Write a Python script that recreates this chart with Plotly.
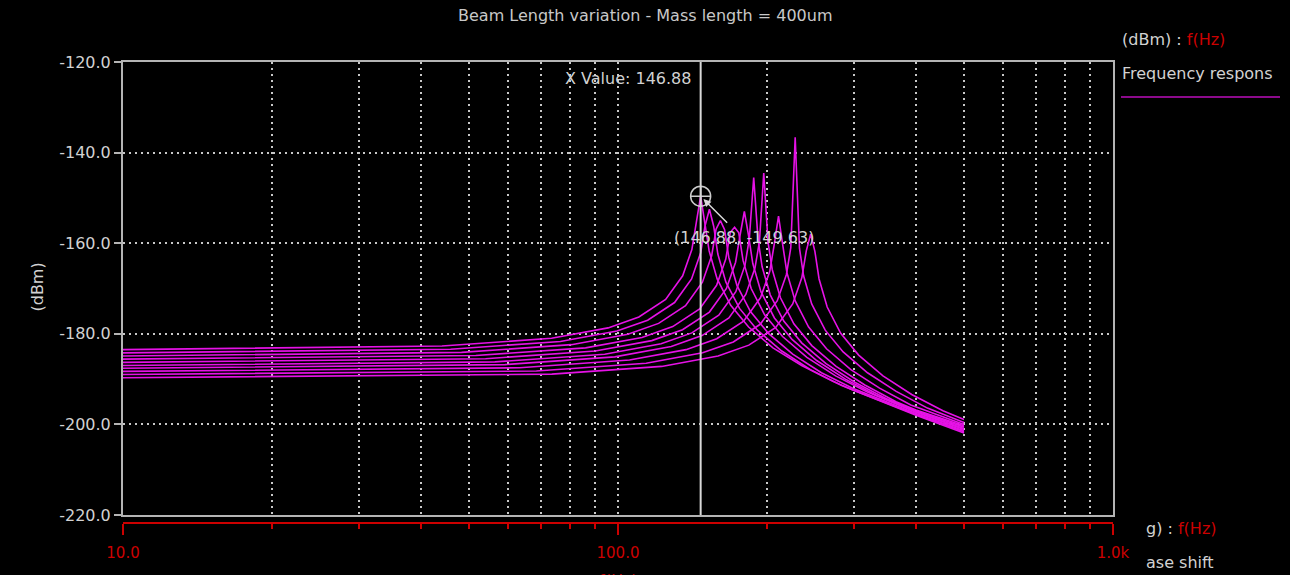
import math
import plotly.graph_objects as go

# Frequency response of the beam-length sweep (10 beam lengths), f in Hz, level in dBm
FREQ_1 = [10, 44.1, 73.4, 95.5, 110.2, 124.8, 135.1, 141.0, 143.9, 146.88, 149.8, 152.8, 158.6, 168.9, 183.6, 205.6, 235.0, 271.7, 300, 400, 500]
DBM_1 = [-183.5, -182.7, -181.0, -178.7, -176.3, -172.4, -167.2, -161.4, -155.5, -149.63, -155.6, -161.7, -167.9, -173.7, -178.5, -183.1, -187.0, -190.5, -192.5, -198.0, -201.9]

FREQ_2 = [10, 45.9, 76.5, 99.5, 114.8, 130.1, 140.8, 146.9, 149.9, 153.0, 156.1, 159.1, 165.2, 176.0, 191.3, 214.2, 244.8, 283.1, 300, 400, 500]
DBM_2 = [-184.2, -183.4, -181.7, -179.4, -177.0, -173.1, -167.9, -162.1, -156.2, -152.5, -156.3, -162.4, -168.6, -174.4, -179.2, -183.8, -187.9, -191.4, -192.5, -197.8, -201.6]

FREQ_3 = [10, 48.3, 80.5, 104.7, 120.8, 136.9, 148.1, 154.6, 157.8, 161.0, 164.2, 167.4, 173.9, 185.2, 201.3, 225.4, 257.6, 297.9, 400, 500]
DBM_3 = [-184.9, -184.1, -182.4, -180.1, -177.7, -173.8, -168.6, -162.8, -156.9, -155.0, -157.0, -163.1, -169.3, -175.1, -179.9, -184.5, -188.6, -192.0, -197.6, -201.4]

FREQ_4 = [10, 51.6, 86.0, 111.8, 129.0, 146.2, 158.2, 165.1, 168.6, 172.0, 175.4, 178.9, 185.8, 197.8, 215.0, 240.8, 275.2, 318.2, 400, 500]
DBM_4 = [-185.6, -184.8, -183.1, -180.8, -178.4, -174.5, -169.3, -163.5, -157.6, -156.5, -157.7, -163.8, -170.0, -175.8, -180.6, -185.2, -189.3, -192.8, -197.3, -201.1]

FREQ_5 = [10, 54.0, 90.0, 117.0, 135.0, 153.0, 165.6, 172.8, 176.4, 180.0, 183.6, 187.2, 194.4, 207.0, 225.0, 252.0, 288.0, 333.0, 400, 500]
DBM_5 = [-186.3, -185.5, -183.8, -181.5, -179.1, -175.2, -170.0, -164.2, -158.3, -153.0, -158.4, -164.5, -170.7, -176.5, -181.3, -185.9, -190.0, -193.6, -197.2, -200.9]

FREQ_6 = [10, 56.4, 94.0, 122.2, 141.0, 159.8, 173.0, 180.5, 184.2, 188.0, 191.8, 195.5, 203.0, 216.2, 235.0, 263.2, 300.8, 347.8, 400, 500]
DBM_6 = [-187.0, -186.2, -184.5, -182.2, -179.8, -175.9, -170.7, -164.9, -159.0, -145.5, -159.1, -165.2, -171.4, -177.2, -182.0, -186.6, -190.7, -194.3, -197.0, -200.6]

FREQ_7 = [10, 59.1, 98.5, 128.1, 147.8, 167.5, 181.2, 189.1, 193.1, 197.0, 200.9, 204.9, 212.8, 226.6, 246.3, 275.8, 315.2, 364.5, 400, 500]
DBM_7 = [-187.6, -186.8, -185.1, -182.8, -180.4, -176.5, -171.3, -165.5, -159.6, -144.5, -159.7, -165.8, -172.0, -177.8, -182.6, -187.2, -191.3, -195.0, -196.8, -200.3]

FREQ_8 = [10, 63.3, 105.5, 137.2, 158.3, 179.4, 194.1, 202.6, 206.8, 211.0, 215.2, 219.4, 227.9, 242.7, 263.8, 295.4, 337.6, 390.4, 500]
DBM_8 = [-188.3, -187.5, -185.8, -183.5, -181.1, -177.2, -172.0, -166.2, -160.3, -154.0, -160.4, -166.5, -172.7, -178.5, -183.3, -187.9, -192.0, -195.7, -200.0]

FREQ_9 = [10, 68.4, 114.0, 148.2, 171.0, 193.8, 209.8, 218.9, 223.4, 228.0, 232.6, 237.1, 246.2, 262.2, 285.0, 319.2, 364.8, 421.8, 500]
DBM_9 = [-189.0, -188.2, -186.5, -184.2, -181.8, -177.9, -172.7, -166.9, -161.0, -136.6, -161.1, -167.2, -173.4, -179.2, -184.0, -188.6, -192.7, -196.4, -199.6]

FREQ_10 = [10, 73.5, 122.5, 159.3, 183.8, 208.3, 225.4, 235.2, 240.1, 245.0, 249.9, 254.8, 264.6, 281.8, 306.3, 343.0, 392.0, 453.3, 500]
DBM_10 = [-189.7, -188.9, -187.2, -184.9, -182.5, -178.6, -173.4, -167.6, -161.7, -158.0, -161.8, -167.9, -174.1, -179.9, -184.7, -189.3, -193.4, -197.0, -198.9]

FREQS = [FREQ_1, FREQ_2, FREQ_3, FREQ_4, FREQ_5, FREQ_6, FREQ_7, FREQ_8, FREQ_9, FREQ_10]
LEVELS = [DBM_1, DBM_2, DBM_3, DBM_4, DBM_5, DBM_6, DBM_7, DBM_8, DBM_9, DBM_10]

# Axis ticks
Y_TICKS = [-120, -140, -160, -180, -200, -220]
Y_TICK_TEXT = ["-120.0", "-140.0", "-160.0", "-180.0", "-200.0", "-220.0"]
X_MAJOR = [10, 100, 1000]
X_MAJOR_TEXT = ["10.0", "100.0", "1.0k"]
X_MINOR = [20, 30, 40, 50, 60, 70, 80, 90, 200, 300, 400, 500, 600, 700, 800, 900]
X_GRID = [20, 30, 40, 50, 60, 70, 80, 90, 100, 200, 300, 400, 500, 600, 700, 800, 900]

# Cursor readout
CURSOR_X = 146.88
CURSOR_Y = -149.63

FONT = "DejaVu Sans"
TRACE = "#e612e6"
RED = "#cc0000"
TEXT = "#d2d2d2"
FRAME = "#b4b4b4"
GRID = "#c8c8c8"

fig = go.Figure()

for f, d in zip(FREQS, LEVELS):
    fig.add_trace(go.Scatter(x=f, y=d, mode="lines", line=dict(color=TRACE, width=1.6),
                             xaxis="x", yaxis="y", showlegend=False, hoverinfo="skip"))

# vertical cursor line
fig.add_trace(go.Scatter(x=[CURSOR_X, CURSOR_X], y=[Y_TICKS[0], Y_TICKS[-1]], mode="lines",
                         line=dict(color="#d8d8d8", width=2), xaxis="x2", yaxis="y",
                         showlegend=False, hoverinfo="skip"))
# cursor target marker
fig.add_trace(go.Scatter(x=[CURSOR_X], y=[CURSOR_Y], mode="markers",
                         marker=dict(symbol="circle-cross-open", size=20, color="#cccccc",
                                     line=dict(width=1.5)),
                         xaxis="x", yaxis="y", showlegend=False, hoverinfo="skip"))

PAPER_H = 575 - 62 - 52

fig.update_layout(
    width=1290, height=575,
    margin=dict(l=123, r=177, t=62, b=52, pad=0),
    paper_bgcolor="black", plot_bgcolor="black",
    font=dict(family=FONT, color=TEXT, size=16),
    showlegend=False,
    xaxis=dict(type="log", range=[1, 3], tickmode="array", tickvals=X_GRID,
               showticklabels=False, ticks="", showgrid=True, gridcolor=GRID,
               griddash="2px,4px", gridwidth=1.5, showline=True, linecolor=FRAME,
               linewidth=2, mirror=True, zeroline=False),
    xaxis2=dict(type="log", range=[1, 3], overlaying="x", anchor="free", position=0,
                tickmode="array", tickvals=X_MAJOR, ticktext=X_MAJOR_TEXT,
                ticks="outside", ticklen=11, tickwidth=1.5, tickcolor=RED,
                showline=True, linecolor=RED, linewidth=2, showgrid=False, zeroline=False,
                tickfont=dict(color=RED, size=15, family=FONT), ticklabelstandoff=5,
                minor=dict(tickmode="array", tickvals=X_MINOR, ticks="outside", ticklen=5,
                           tickcolor=RED, tickwidth=1.5, showgrid=False)),
    yaxis=dict(range=[-220, -120], domain=[8 / PAPER_H, 1], tickmode="array",
               tickvals=Y_TICKS, ticktext=Y_TICK_TEXT, ticks="outside", ticklen=7,
               tickcolor=FRAME, tickwidth=1.5, showgrid=True, gridcolor=GRID,
               griddash="2px,4px", gridwidth=1.5, showline=True, linecolor=FRAME,
               linewidth=2, mirror=True, zeroline=False,
               tickfont=dict(color=TEXT, size=16, family=FONT)),
)


def py(pixel_y):
    # paper y for a pixel row in the page
    return (575 - 52 - pixel_y) / PAPER_H


def px(pixel_x):
    return (pixel_x - 123) / 990


# annotations on a log x axis take log10 positions
CX = math.log10(CURSOR_X)

annotations = [
    dict(text="Beam Length variation - Mass length = 400um", x=px(645), y=py(15),
         xref="paper", yref="paper", yanchor="middle", showarrow=False,
         font=dict(size=16, color="#c8c8c8")),
    dict(text="(dBm)", x=px(25), y=py(287), xref="paper", yref="paper", yanchor="middle",
         showarrow=False, textangle=-90, font=dict(size=16, color=TEXT)),
    dict(text=f"X Value: {CURSOR_X:.2f}", x=CX, y=-120, xref="x", yref="y",
         xanchor="right", yanchor="middle", xshift=-8, yshift=-16, showarrow=False,
         font=dict(size=16, color=TEXT)),
    dict(text="", x=CX, y=CURSOR_Y, xref="x", yref="y", showarrow=True,
         ax=28, ay=28, arrowhead=2, arrowsize=1, arrowwidth=1.5, arrowcolor="#d8d8d8",
         standoff=4),
    dict(text=f"({CURSOR_X:.2f}, {CURSOR_Y:.2f})", x=CX, y=CURSOR_Y, xref="x",
         yref="y", xshift=43, yshift=-41, showarrow=False, font=dict(size=16, color=TEXT)),
    dict(text=f"(dBm) : <span style='color:{RED}'>f(Hz)</span>", x=px(1120), y=py(40),
         xref="paper", yref="paper", xanchor="left", yanchor="middle", showarrow=False,
         font=dict(size=16, color=TEXT)),
    dict(text="Frequency respons", x=px(1120), y=py(73), xref="paper", yref="paper",
         xanchor="left", yanchor="middle", showarrow=False, font=dict(size=16, color=TEXT)),
    dict(text=f"g) : <span style='color:{RED}'>f(Hz)</span>", x=px(1144), y=py(528),
         xref="paper", yref="paper", xanchor="left", yanchor="middle", showarrow=False,
         font=dict(size=16, color=TEXT)),
    dict(text="ase shift", x=px(1144), y=py(562), xref="paper", yref="paper",
         xanchor="left", yanchor="middle", showarrow=False, font=dict(size=16, color=TEXT)),
    dict(text="f(Hz)", x=0.5, y=py(580), xref="paper", yref="paper", yanchor="middle",
         showarrow=False, font=dict(size=16, color=RED)),
]
fig.update_layout(annotations=annotations)

# legend swatch for the frequency-response series
fig.add_shape(type="line", xref="paper", yref="paper", x0=px(1121), x1=px(1280),
              y0=py(97), y1=py(97), line=dict(color="#8c0a8c", width=2))

fig.write_html("out.html")
